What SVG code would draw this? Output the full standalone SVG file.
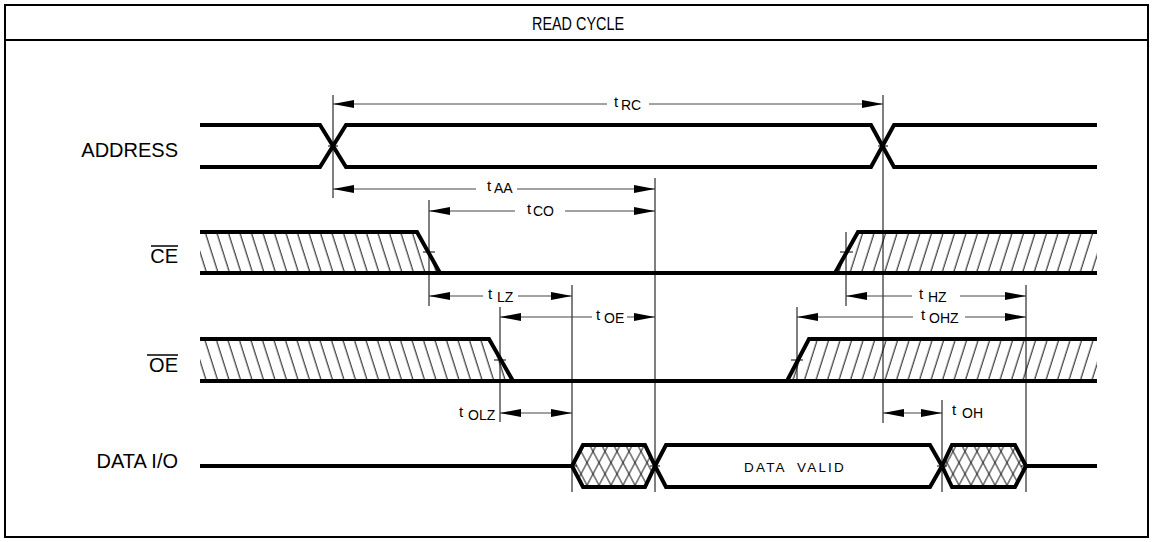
<svg xmlns="http://www.w3.org/2000/svg" width="1156" height="542" viewBox="0 0 1156 542">
<style>
.sig{fill:none;stroke:#000;stroke-width:4;stroke-linejoin:miter}
.v{stroke:#000;stroke-width:1;fill:none}
.dim{stroke:#444;stroke-width:1;fill:none}
.tk{stroke:#000;stroke-width:1}
.lbl{font-family:"Liberation Sans",Arial,sans-serif;font-size:20px;fill:#000}
.ttl{font-family:"Liberation Sans",Arial,sans-serif;font-size:18px;fill:#000}
.tm{font-family:"Liberation Sans",Arial,sans-serif;font-size:15px;fill:#000}
.sub{font-size:14px}
.dv{font-family:"Liberation Sans",Arial,sans-serif;font-size:13.5px;letter-spacing:2.2px;fill:#000}
</style>
<defs>
<marker id="ah" markerUnits="userSpaceOnUse" markerWidth="22" markerHeight="9" refX="21" refY="4" orient="auto-start-reverse" viewBox="0 0 22 8"><path d="M0,0 L21,4 L0,8 z" fill="#000"/></marker>
<pattern id="hb" patternUnits="userSpaceOnUse" width="11.5" height="10" patternTransform="skewX(17.6)"><line x1="5" y1="-1" x2="5" y2="11" stroke="#000" stroke-width="1"/></pattern>
<pattern id="hf" patternUnits="userSpaceOnUse" width="11.5" height="10" patternTransform="skewX(-17.6)"><line x1="5" y1="-1" x2="5" y2="11" stroke="#000" stroke-width="1"/></pattern>
<pattern id="xa" patternUnits="userSpaceOnUse" width="12" height="10" patternTransform="skewX(28)"><line x1="5" y1="-1" x2="5" y2="11" stroke="#000" stroke-width="1"/></pattern>
<pattern id="xb" patternUnits="userSpaceOnUse" width="12" height="10" patternTransform="skewX(-28)"><line x1="5" y1="-1" x2="5" y2="11" stroke="#000" stroke-width="1"/></pattern>
</defs>
<rect x="0" y="0" width="1156" height="542" fill="#fff"/>
<g id="frame">
<rect x="5" y="5" width="1143" height="532" fill="none" stroke="#000" stroke-width="2"/>
<line x1="5" y1="40" x2="1148" y2="40" stroke="#000" stroke-width="2"/>
<text class="ttl" x="532" y="30" textLength="92" lengthAdjust="spacingAndGlyphs">READ CYCLE</text>
</g>

<g id="address">
<text class="lbl" x="178" y="157" text-anchor="end">ADDRESS</text>
<path class="sig" d="M200,125 H320 L346,167 H871 L894,125 H1097"/>
<path class="sig" d="M200,167 H320 L346,125 H871 L894,167 H1097"/>
</g>

<g id="ce">
<text class="lbl" x="178" y="263" text-anchor="end">CE</text>
<line x1="151" y1="246" x2="178" y2="246" stroke="#000" stroke-width="1.5"/>
<polygon points="200,232 417,232 440,273 200,273" fill="url(#hb)"/>
<polygon points="835,273 858,232 1097,232 1097,273" fill="url(#hf)"/>
<path class="sig" d="M200,232 H417 L440,273"/>
<path class="sig" d="M835,273 L858,232 H1097"/>
<path class="sig" d="M200,273 H1097"/>
</g>

<g id="oe">
<text class="lbl" x="178" y="372" text-anchor="end">OE</text>
<line x1="147" y1="355" x2="178" y2="355" stroke="#000" stroke-width="1.5"/>
<polygon points="200,339 489,339 513,381 200,381" fill="url(#hb)"/>
<polygon points="787,381 809,339 1097,339 1097,381" fill="url(#hf)"/>
<path class="sig" d="M200,339 H489 L513,381"/>
<path class="sig" d="M787,381 L809,339 H1097"/>
<path class="sig" d="M200,381 H1097"/>
</g>

<g id="data">
<text class="lbl" x="178" y="468" text-anchor="end">DATA I/O</text>
<path class="sig" d="M200,466 H572"/>
<polygon points="572,466 583,445 645,445 655,466 645,487 583,487" fill="url(#xa)"/>
<polygon points="572,466 583,445 645,445 655,466 645,487 583,487" fill="url(#xb)"/>
<polygon class="sig" points="572,466 583,445 645,445 655,466 645,487 583,487"/>
<polygon class="sig" points="655,466 666,445 930,445 942,466 930,487 666,487"/>
<polygon points="942,466 952,445 1015,445 1026,466 1015,487 952,487" fill="url(#xa)"/>
<polygon points="942,466 952,445 1015,445 1026,466 1015,487 952,487" fill="url(#xb)"/>
<polygon class="sig" points="942,466 952,445 1015,445 1026,466 1015,487 952,487"/>
<path class="sig" d="M1026,466 H1097"/>
<text class="dv" x="744" y="472">DATA</text>
<text class="dv" x="797" y="472">VALID</text>
</g>

<g id="connectors">
<line class="v" x1="333" y1="95" x2="333" y2="198"/>
<line class="v" x1="883" y1="95" x2="883" y2="423"/>
<line class="v" x1="655" y1="178" x2="655" y2="492"/>
<line class="v" x1="429" y1="200" x2="429" y2="306"/>
<line class="v" x1="572" y1="285" x2="572" y2="492"/>
<line class="v" x1="500" y1="307" x2="500" y2="422"/>
<line class="v" x1="846" y1="232" x2="846" y2="306"/>
<line class="v" x1="797" y1="307" x2="797" y2="383"/>
<line class="v" x1="1026" y1="285" x2="1026" y2="492"/>
<line class="v" x1="942" y1="400" x2="942" y2="492"/>

<line class="tk" x1="328" y1="146" x2="338" y2="146"/>
<line class="tk" x1="878" y1="146" x2="888" y2="146"/>
<line class="tk" x1="423" y1="252" x2="435" y2="252"/>
<line class="tk" x1="840" y1="252" x2="853" y2="252"/>
<line class="tk" x1="494" y1="360" x2="506" y2="360"/>
<line class="tk" x1="791" y1="360" x2="803" y2="360"/>
<line class="tk" x1="567" y1="466" x2="577" y2="466"/>
<line class="tk" x1="650" y1="466" x2="660" y2="466"/>
<line class="tk" x1="937" y1="466" x2="947" y2="466"/>
<line class="tk" x1="1021" y1="466" x2="1031" y2="466"/>

<line class="dim" x1="333" y1="104" x2="607" y2="104" marker-start="url(#ah)"/>
<line class="dim" x1="649" y1="104" x2="883" y2="104" marker-end="url(#ah)"/>
<line class="dim" x1="333" y1="189" x2="476" y2="189" marker-start="url(#ah)"/>
<line class="dim" x1="517" y1="189" x2="655" y2="189" marker-end="url(#ah)"/>
<line class="dim" x1="429" y1="211" x2="515" y2="211" marker-start="url(#ah)"/>
<line class="dim" x1="565" y1="211" x2="655" y2="211" marker-end="url(#ah)"/>
<line class="dim" x1="429" y1="296" x2="483" y2="296" marker-start="url(#ah)"/>
<line class="dim" x1="518" y1="296" x2="572" y2="296" marker-end="url(#ah)"/>
<line class="dim" x1="500" y1="317" x2="592" y2="317" marker-start="url(#ah)"/>
<line class="dim" x1="627" y1="317" x2="655" y2="317" marker-end="url(#ah)"/>
<line class="dim" x1="846" y1="296" x2="912" y2="296" marker-start="url(#ah)"/>
<line class="dim" x1="960" y1="296" x2="1026" y2="296" marker-end="url(#ah)"/>
<line class="dim" x1="797" y1="317" x2="913" y2="317" marker-start="url(#ah)"/>
<line class="dim" x1="965" y1="317" x2="1026" y2="317" marker-end="url(#ah)"/>
<line class="dim" x1="500" y1="413" x2="572" y2="413" marker-start="url(#ah)" marker-end="url(#ah)"/>
<line class="dim" x1="883" y1="413" x2="942" y2="413" marker-start="url(#ah)" marker-end="url(#ah)"/>

<text class="tm" x="614" y="107">t<tspan class="sub" x="621" y="110">RC</tspan></text>
<text class="tm" x="487" y="191">t<tspan class="sub" x="494" y="193">AA</tspan></text>
<text class="tm" x="527" y="214">t<tspan class="sub" x="533" y="216">CO</tspan></text>
<text class="tm" x="488" y="299">t<tspan class="sub" x="497" y="302">LZ</tspan></text>
<text class="tm" x="596" y="320">t<tspan class="sub" x="604" y="323">OE</tspan></text>
<text class="tm" x="919" y="299">t<tspan class="sub" x="928" y="302">HZ</tspan></text>
<text class="tm" x="921" y="320">t<tspan class="sub" x="929" y="323">OHZ</tspan></text>
<text class="tm" x="459" y="417">t<tspan class="sub" x="468" y="420">OLZ</tspan></text>
<text class="tm" x="952" y="415">t<tspan class="sub" x="962" y="418">OH</tspan></text>
</g>
</svg>
